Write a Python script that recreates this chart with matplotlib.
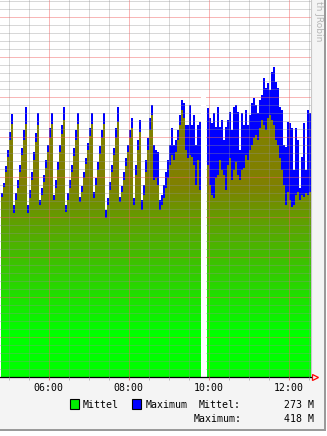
import numpy as np
import matplotlib
matplotlib.use("Agg")
import matplotlib.pyplot as plt
from matplotlib.path import Path
from matplotlib.patches import Rectangle
from matplotlib.ticker import MultipleLocator

W, H = 327, 436
nan = float("nan")

# 3-minute samples starting 04:48, values in M
mittel = [225, 237, 256, 275, 296, 316,
          205, 221, 236, 256, 277, 296, 316,
          205, 224, 246, 271, 294, 315,
          215, 227, 244, 261, 281, 299, 316,
          221, 236, 259, 281, 304, 321,
          206, 221, 236, 256, 276, 296, 316,
          219, 231, 249, 266, 284, 301, 316,
          224, 240, 259, 279, 299, 316,
          199, 215, 234, 256, 277, 299, 319,
          219, 231, 246, 264, 281, 299, 311,
          215, 252, 284, 306,
          209, 227, 256, 284, 309, 327,
          246, 249, 240, 209, 215, 224, 236, 249, 265, 277, 271, 281,
          296, 315, 334, 324, 284, 274, 277, 275, 265, 240, 271, 234,
          nan, nan, nan,
          265, 240, 228, 224, 249, 252, 271, 259, 252, 234, 265, 274,
          246, 259, 269, 252, 246, 259, 261, 277, 271, 284, 290, 299,
          302, 296, 311, 321, 315, 309, 324, 328, 321, 315, 296, 290,
          274, 259, 240, 215, 231, 221, 212, 215, 228, 231, 221, 228,
          225, 230, 228, 231, 230]

maximum = [230, 242, 264, 284, 306, 329,
           215, 230, 246, 265, 286, 309, 337,
           215, 234, 256, 281, 305, 330,
           221, 236, 252, 271, 290, 311, 330,
           227, 246, 269, 290, 315, 337,
           215, 230, 246, 265, 286, 309, 330,
           225, 239, 256, 274, 292, 311, 330,
           231, 249, 269, 289, 309, 330,
           209, 224, 244, 265, 286, 311, 337,
           225, 239, 256, 274, 290, 309, 324,
           224, 265, 296, 321,
           221, 240, 271, 299, 324, 340,
           290, 284, 281, 221, 228, 240, 256, 271, 290, 311, 290, 296,
           309, 327, 346, 342, 315, 315, 340, 315, 327, 290, 315, 319,
           nan, nan, nan,
           336, 324, 318, 330, 312, 338, 312, 321, 296, 312, 321, 331,
           309, 338, 340, 331, 284, 330, 315, 334, 315, 328, 342, 349,
           340, 330, 346, 352, 374, 361, 367, 359, 381, 388, 369, 361,
           338, 334, 290, 288, 319, 318, 311, 259, 311, 296, 236, 275,
           318, 259, 334, 330, 292]

tick_hours = [6, 8, 10, 12]
tick_labels = ["06:00", "08:00", "10:00", "12:00"]
stat_mittel = "273 M"
stat_max = "418 M"

start_h = 4.8
step_h = 0.05
hours = start_h + step_h * np.arange(len(mittel))
edges = np.append(hours, hours[-1] + step_h)


def steps(vals):
    v = np.array(vals, dtype=float)
    return np.repeat(edges, 2)[1:-1], np.repeat(v, 2)


mono = "DejaVu Sans Mono"
fig = plt.figure(figsize=(W / 100, H / 100), dpi=100)
fig.patch.set_facecolor("white")
fig.add_artist(Rectangle((0, 5 / H), 324 / W, 1 - 5 / H, transform=fig.transFigure,
                         facecolor="#f4f4f4", edgecolor="none", zorder=-10))
fig.add_artist(Rectangle((324 / W, 5 / H), 2 / W, 1 - 5 / H, transform=fig.transFigure,
                         facecolor="#9a9a9a", edgecolor="none", zorder=-9))
fig.add_artist(Rectangle((0, 5 / H), 326 / W, 2 / H, transform=fig.transFigure,
                         facecolor="#9a9a9a", edgecolor="none", zorder=-9))

ax = fig.add_axes([0, 59 / H, 311 / W, 377 / H])
ax.set_facecolor("white")
x0 = 6 + (0 - 48.5) / 40
x1 = 6 + (311 - 48.5) / 40
ytop = 471.25

# maximum (blue) behind, mittel (gradient) in front
xs, ys = steps(maximum)
ax.fill_between(xs, 0, ys, color="#0000ff", lw=0, zorder=1)
xs, ys = steps(mittel)
poly = ax.fill_between(xs, 0, ys, facecolor="none", lw=0, zorder=1)
clip = Path.make_compound_path(*poly.get_paths())

lev = np.linspace(0, ytop, 400)
t = np.clip((lev - 55) / (240 - 55), 0, 1)
green = np.array([0, 1, 0])
olive = np.array([128, 128, 0]) / 255
grad = (1 - t)[:, None] * green + t[:, None] * olive
img = ax.imshow(grad[:, None, :], extent=[x0, x1, 0, ytop], origin="lower",
                aspect="auto", interpolation="bilinear", zorder=1.5)
img.set_clip_path(clip, ax.transData)

nan_idx = np.where(np.isnan(np.array(mittel, dtype=float)))[0]
ax.axvspan(edges[nan_idx[0]], edges[nan_idx[-1] + 1], ymin=0.003, ymax=350 / ytop,
           color="white", lw=0, zorder=3)

ax.set_xlim(x0, x1)
ax.set_ylim(0, ytop)
ax.set_axisbelow(False)
ax.xaxis.set_major_locator(MultipleLocator(2))
ax.xaxis.set_minor_locator(MultipleLocator(0.5))
ax.yaxis.set_major_locator(MultipleLocator(50))
ax.yaxis.set_minor_locator(MultipleLocator(10))
ax.grid(which="minor", color="#909090", alpha=0.35, lw=0.72)
ax.grid(which="major", color="#f06060", alpha=0.45, lw=0.72)
ax.set_xticks(tick_hours)
ax.set_xticklabels(tick_labels, fontfamily=mono, fontsize=7.1)
ax.tick_params(axis="y", which="both", left=False, labelleft=False)
ax.tick_params(axis="x", which="major", length=2, pad=2, color="#e08080")
ax.tick_params(axis="x", which="minor", length=2, color="#b0b0b0")
for s in ["left", "top"]:
    ax.spines[s].set_visible(False)
ax.spines["right"].set_color("#c8c8c8")
ax.spines["right"].set_linewidth(0.8)
ax.spines["bottom"].set_color("black")
ax.spines["bottom"].set_linewidth(0.9)
ax.plot([1.013], [0], marker=">", ms=4.5, mfc="none", mec="red", mew=0.9,
        transform=ax.transAxes, clip_on=False)

# legend
fig.add_artist(Rectangle((70 / W, 1 - 409 / H), 9 / W, 10 / H, transform=fig.transFigure,
                         facecolor="#00ee00", edgecolor="black", lw=0.8))
fig.add_artist(Rectangle((132 / W, 1 - 409 / H), 9 / W, 10 / H, transform=fig.transFigure,
                         facecolor="#0000ff", edgecolor="black", lw=0.8))
fig.text(83 / W, 1 - 404.5 / H, "Mittel", va="center", fontfamily=mono, fontsize=7.1)
fig.text(145.5 / W, 1 - 404.5 / H, "Maximum", va="center", fontfamily=mono, fontsize=7.1)
fig.text(199 / W, 1 - 404.5 / H, "Mittel:", va="center", fontfamily=mono, fontsize=7.1)
fig.text(313.5 / W, 1 - 404.5 / H, stat_mittel, va="center", ha="right", fontfamily=mono, fontsize=7.1)
fig.text(193.5 / W, 1 - 419 / H, "Maximum:", va="center", fontfamily=mono, fontsize=7.1)
fig.text(313.5 / W, 1 - 419 / H, stat_max, va="center", ha="right", fontfamily=mono, fontsize=7.1)

fig.text(318.5 / W, 1 - 1 / H, "th JRobin", rotation=270, ha="center", va="top",
         color="#b4b4b4", fontsize=6.5)

fig.savefig("out.png", dpi=100)
